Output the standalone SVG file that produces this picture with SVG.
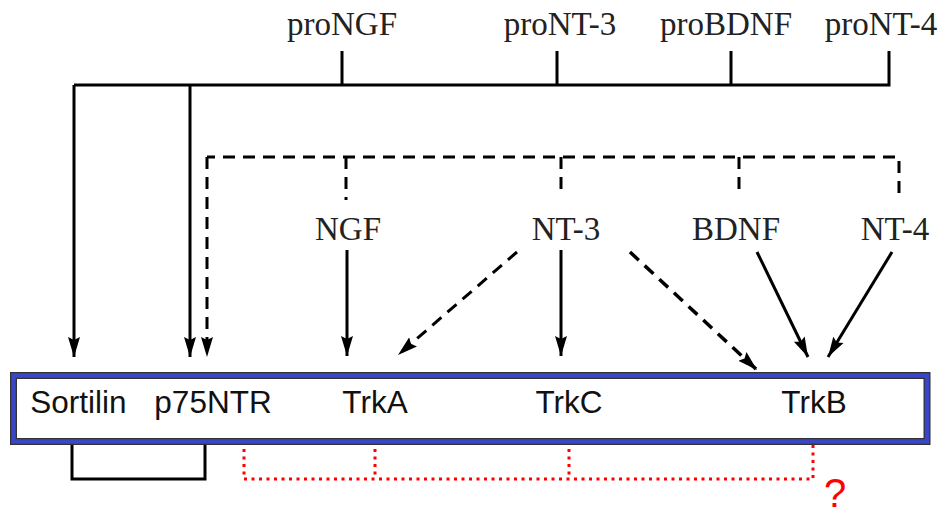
<svg xmlns="http://www.w3.org/2000/svg" width="949" height="515" viewBox="0 0 949 515">
<style>
.serif{font-family:"Liberation Serif","Times New Roman",serif;font-size:33px;fill:#222;text-anchor:middle}
.sans{font-family:"Liberation Sans",Arial,sans-serif;font-size:31.5px;fill:#111;text-anchor:middle}
.solid{fill:none;stroke:#000;stroke-width:3}
.dash{fill:none;stroke:#000;stroke-width:3;stroke-dasharray:12 8}
.dot{fill:none;stroke:#f00;stroke-width:3;stroke-dasharray:3 4.5}
</style>
<defs>
<marker id="ah" markerUnits="userSpaceOnUse" markerWidth="22" markerHeight="14" refX="20" refY="7" orient="auto">
<path d="M0,1 L20,7 L0,13 L3,7 Z" fill="#000"/>
</marker>
</defs>
<rect x="0" y="0" width="949" height="515" fill="#fff"/>
<g id="connectors">
<path class="solid" d="M342,51 V85 M557,51 V85 M731,51 V85 M889,51 V85 H74"/>
<path class="solid" d="M74,85 V357" marker-end="url(#ah)"/>
<path class="solid" d="M190,85 V357" marker-end="url(#ah)"/>
<path class="dash" d="M899,193 V157 H207"/>
<path class="dash" d="M346,157 V200 M561,157 V193 M739,157 V197"/>
<path class="dash" d="M207,157 V357" marker-end="url(#ah)"/>
<path class="solid" d="M347,250 V356" marker-end="url(#ah)"/>
<path class="solid" d="M561,250 V356" marker-end="url(#ah)"/>
<path class="dash" d="M517,252 L398,355" marker-end="url(#ah)"/>
<path class="dash" style="stroke-width:3.5" d="M630,252 L757,370" marker-end="url(#ah)"/>
<path class="solid" d="M757,252 L808,357" marker-end="url(#ah)"/>
<path class="solid" d="M892,252 L828,357" marker-end="url(#ah)"/>
<path class="solid" d="M72,421 V479 H205 V421"/>
<path class="dot" d="M244,419 V479 H813 V419 M375,419 V479 M569,419 V479"/>
</g>
<g id="proNGF"><text class="serif" x="342" y="35">proNGF</text></g>
<g id="proNT-3"><text class="serif" x="560" y="35">proNT-3</text></g>
<g id="proBDNF"><text class="serif" x="726" y="35">proBDNF</text></g>
<g id="proNT-4"><text class="serif" x="881" y="35">proNT-4</text></g>
<g id="NGF"><text class="serif" x="348" y="240">NGF</text></g>
<g id="NT-3"><text class="serif" x="566" y="240">NT-3</text></g>
<g id="BDNF"><text class="serif" x="736" y="240">BDNF</text></g>
<g id="NT-4"><text class="serif" x="895" y="240">NT-4</text></g>
<g id="membrane">
<rect x="13.5" y="375.5" width="913.5" height="66" fill="#fff" stroke="#333" stroke-width="7"/>
<rect x="13.5" y="375.5" width="913.5" height="66" fill="none" stroke="#3a46c8" stroke-width="4.5"/>
</g>
<g id="Sortilin"><text class="sans" x="78.5" y="413">Sortilin</text></g>
<g id="p75NTR"><text class="sans" x="213" y="413">p75NTR</text></g>
<g id="TrkA"><text class="sans" x="375" y="413">TrkA</text></g>
<g id="TrkC"><text class="sans" x="569" y="413">TrkC</text></g>
<g id="TrkB"><text class="sans" x="814" y="413">TrkB</text></g>
<g id="question"><text x="835" y="507" style="font-family:'Liberation Sans',Arial,sans-serif;font-size:40px;fill:#f00;text-anchor:middle">?</text></g>
</svg>
